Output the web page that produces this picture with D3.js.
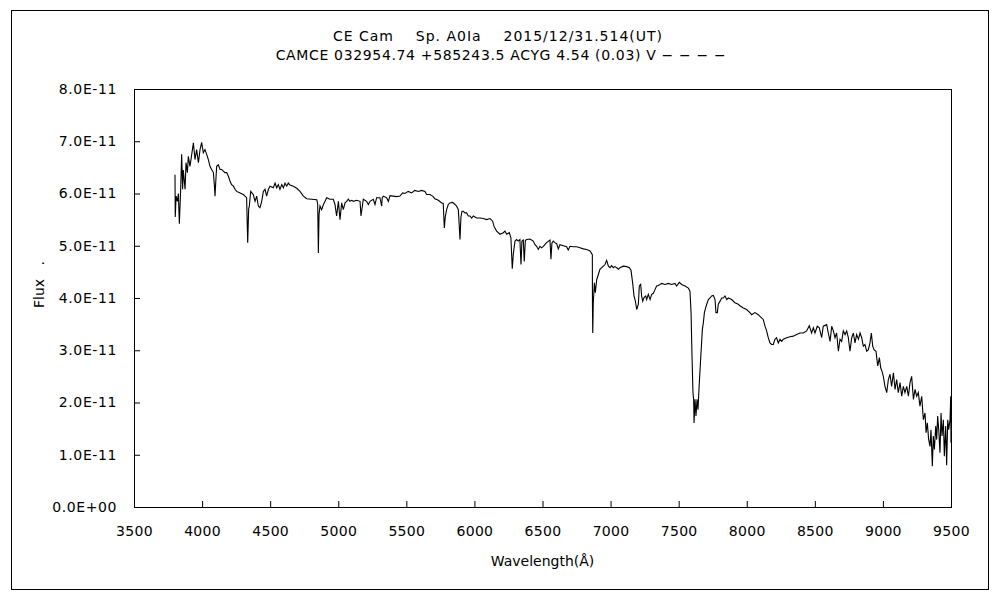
<!DOCTYPE html>
<html>
<head>
<meta charset="utf-8">
<script src="https://cdn.jsdelivr.net/npm/d3@7"></script>
<style>
  body { margin: 0; background: #fff; }
  text { font-family: "DejaVu Sans", sans-serif; fill: #000; }
</style>
</head>
<body>
<svg id="chart" width="1000" height="600"></svg>
<script>
// spectrum: wavelength (A) and flux in units of 1e-11
const wavelength = [
  3801,3803,3809,3818,3826,3833,3843,3850,3857,3862,3875,3882,3892,3899,3911,3924,3936,3948,3960,3973,
  3985,3997,4009,4021,4034,4046,4058,4070,4083,4090,4095,4100,4107,4119,4132,4144,4156,4168,4181,4193,
  4205,4217,4230,4242,4254,4279,4303,4315,4327,4335,4342,4347,4357,4376,4389,4401,4413,4425,4438,4450,
  4462,4474,4487,4499,4523,4536,4548,4560,4572,4585,4597,4609,4621,4633,4646,4670,4695,4719,4744,4768,
  4805,4842,4849,4854,4859,4866,4878,4891,4903,4915,4939,4964,4976,4988,5001,5013,5025,5037,5050,5062,
  5074,5086,5099,5111,5135,5160,
  5167,5184,5208,5221,5233,5257,5270,5282,5306,5319,5323,5331,5355,5368,5380,5404,5429,5453,5473,5490,
  5514,5539,5563,5588,5612,5637,5649,5674,5693,5710,5735,5759,5771,5779,5786,5796,5808,5820,5840,5857,
  5869,5882,5894,5901,5909,5918,5931,5943,5955,5967,5980,5992,6016,6041,6065,6090,6114,6134,6144,6163,
  6188,6212,6224,6237,6256,6268,6278,6286,6290,6298,6310,6322,6334,6342,6349,6359,6366,6374,6383,6408,
  6432,6445,6457,6469,6481,6494,6506,6530,6555,6562,6569,6579,6591,6604,6616,6628,6653,6677,6689,6702,
  6726,6751,6775,6800,6824,6849,6866,
  6867,6869,6873,6881,6888,6898,6910,6922,6935,6947,6959,6971,6984,6996,7008,7020,7032,7045,7057,7069,
  7094,7118,7138,7150,7162,7172,7182,7192,7204,7211,7221,7228,7236,7245,7258,7265,7277,7290,7302,7314,
  7326,7338,7351,7375,7400,7424,7449,7473,7485,7505,7522,7547,7571,7583,7591,7598,7605,7610,7613,7620,
  7627,7635,7642,7649,7657,7667,7674,7681,7689,7698,7706,7718,7730,7742,7755,7767,7774,7784,7791,7804,
  7816,7828,7840,7853,7865,
  7889,7913,7938,7950,7975,7999,8023,8036,8060,8085,8097,8109,8121,8134,8146,8158,8170,8183,8195,8207,
  8219,8232,8244,8256,8268,8293,8317,8342,8366,8391,8415,8440,8459,8476,8489,8501,8518,8533,8550,8562,
  8587,8599,
  8612,8624,8636,8648,8660,8673,8685,8697,8709,8722,8734,8746,8758,8771,8783,8795,8807,8820,8832,8844,
  8856,8868,8881,8893,8905,8915,8925,8935,8949,8962,8974,8984,8993,9003,9015,9028,9040,9052,9064,9077,
  9089,9101,9113,9126,9138,9150,9162,9175,9187,9199,9211,9224,9236,9248,9260,9272,9285,9297,9309,9317,
  9326,9336,9346,9353,9363,9370,9378,9388,9395,9402,9410,9419,9427,9434,9444,9451,9461,9468,9476,9483,
  9493,9498,9500
];
const flux = [
  6.36,5.55,5.95,5.85,6.00,5.42,6.10,6.75,6.08,6.45,6.08,6.59,6.40,6.71,6.52,6.75,6.97,6.65,6.84,6.59,
  6.84,6.98,6.78,6.84,6.75,6.65,6.52,6.46,6.40,6.17,5.95,6.20,6.52,6.55,6.46,6.46,6.43,6.40,6.40,6.33,
  6.24,6.17,6.14,6.08,6.04,6.01,5.98,5.95,5.92,5.06,5.70,5.76,6.04,5.98,5.85,5.95,5.76,5.73,5.85,6.04,
  6.08,5.95,6.08,6.14,6.11,6.20,6.11,6.17,6.08,6.17,6.11,6.20,6.14,6.20,6.16,6.14,6.10,6.04,5.95,5.90,
  5.89,5.88,5.80,4.86,5.60,5.76,5.69,5.79,5.85,5.92,5.89,5.89,5.79,5.57,5.85,5.50,5.82,5.69,5.82,5.85,
  5.89,5.85,5.87,5.85,5.87,5.85,
  5.57,5.89,5.85,5.79,5.85,5.89,5.79,5.92,5.92,5.76,5.92,5.95,5.92,5.85,5.96,5.95,5.94,5.95,6.01,6.00,
  6.04,6.01,6.06,6.04,6.06,6.04,5.98,5.98,5.95,5.90,5.87,5.82,5.81,5.34,5.55,5.69,5.79,5.82,5.83,5.79,
  5.76,5.69,5.12,5.55,5.66,5.66,5.63,5.63,5.57,5.57,5.53,5.57,5.53,5.53,5.52,5.50,5.52,5.47,5.37,5.28,
  5.22,5.25,5.28,5.22,5.25,5.15,4.56,4.85,4.93,5.09,5.12,5.09,5.12,4.64,5.09,5.11,4.70,5.10,5.12,5.13,
  5.09,5.02,4.99,4.93,4.99,4.96,4.99,5.06,5.11,4.74,5.05,5.09,5.06,5.04,4.94,5.02,5.00,4.98,4.92,4.99,
  4.98,4.98,4.96,4.94,4.93,4.90,4.83,
  3.85,3.33,3.91,4.29,4.10,4.35,4.45,4.55,4.58,4.61,4.64,4.72,4.61,4.58,4.62,4.58,4.60,4.58,4.55,4.58,
  4.61,4.60,4.58,4.53,4.29,4.04,3.94,3.78,3.88,4.23,4.26,4.04,3.94,4.01,4.04,3.97,4.07,3.97,4.07,4.09,
  4.16,4.23,4.24,4.28,4.26,4.28,4.26,4.28,4.23,4.30,4.26,4.23,4.19,4.13,3.72,2.89,2.19,2.06,1.61,2.06,
  1.74,2.06,1.86,2.25,2.63,3.08,3.40,3.52,3.72,3.81,3.88,3.97,4.00,4.04,4.05,3.97,3.72,3.72,3.88,3.94,
  4.00,4.00,4.04,3.97,4.00,
  3.97,3.91,3.88,3.85,3.81,3.78,3.72,3.68,3.72,3.68,3.65,3.62,3.59,3.46,3.37,3.24,3.14,3.11,3.11,3.21,
  3.24,3.14,3.21,3.17,3.21,3.24,3.26,3.27,3.30,3.33,3.33,3.37,3.47,3.33,3.43,3.33,3.46,3.43,3.24,3.46,
  3.49,3.33,
  3.17,3.46,3.37,3.24,3.33,2.98,3.21,3.17,3.37,3.30,3.37,3.24,2.98,3.24,3.33,3.14,3.30,3.21,3.33,3.24,
  3.08,3.11,2.98,3.01,3.14,3.33,3.08,3.01,2.98,2.70,2.86,2.66,2.60,2.50,2.31,2.19,2.44,2.54,2.31,2.57,
  2.25,2.44,2.19,2.38,2.12,2.31,2.19,2.31,2.12,2.38,2.50,2.06,2.25,2.12,2.19,1.93,2.12,1.67,1.80,1.42,
  1.61,1.29,1.16,1.48,0.78,1.36,1.10,1.55,1.29,1.74,1.48,1.04,1.80,1.36,1.67,0.97,1.55,0.80,1.67,1.48,
  1.67,2.12,1.23
];

const xTicks = [3500, 4000, 4500, 5000, 5500, 6000, 6500, 7000, 7500, 8000, 8500, 9000, 9500];
const yTicks = [0, 1, 2, 3, 4, 5, 6, 7, 8];
const yTickLabels = ["0.0E+00", "1.0E-11", "2.0E-11", "3.0E-11", "4.0E-11",
                     "5.0E-11", "6.0E-11", "7.0E-11", "8.0E-11"];

const titleLine1 = "CE Cam    Sp. A0\u2160a    2015/12/31.514(UT)";
const titleLine2 = "CAMCE 032954.74 +585243.5 ACYG 4.54 (0.03) V \u2212 \u2212 \u2212 \u2212";

const plot = { left: 134, right: 951, top: 89, bottom: 507 };

const svg = d3.select("#chart");

// outer frame
svg.append("rect")
  .attr("x", 11.5).attr("y", 10.5)
  .attr("width", 977).attr("height", 579)
  .attr("fill", "none").attr("stroke", "#000");

const x = d3.scaleLinear().domain([3500, 9500]).range([plot.left, plot.right]);
const y = d3.scaleLinear().domain([0, 8]).range([plot.bottom, plot.top]);

// plot box
svg.append("rect")
  .attr("x", plot.left + 0.5).attr("y", plot.top + 0.5)
  .attr("width", plot.right - plot.left).attr("height", plot.bottom - plot.top)
  .attr("fill", "none").attr("stroke", "#000");

const xAxis = svg.append("g")
  .attr("transform", `translate(0,${plot.bottom})`)
  .call(d3.axisBottom(x).tickValues(xTicks).tickFormat(d3.format("d"))
    .tickSizeInner(-6).tickSizeOuter(0).tickPadding(19));
xAxis.selectAll("text").style("font-size", "14px").style("letter-spacing", "0.3px");

const yAxis = svg.append("g")
  .attr("transform", `translate(${plot.left},0)`)
  .call(d3.axisLeft(y).tickValues(yTicks).tickFormat((d, i) => yTickLabels[i])
    .tickSizeInner(-6).tickSizeOuter(0).tickPadding(17));
yAxis.selectAll("text").style("font-size", "14px").style("letter-spacing", "0.6px");

svg.selectAll(".domain").attr("stroke", "#000");
svg.selectAll(".tick line").attr("stroke", "#000");

// spectrum
const pts = wavelength.map((w, i) => [w, flux[i]]);
svg.append("path")
  .datum(pts)
  .attr("fill", "none")
  .attr("stroke", "#000")
  .attr("stroke-width", 1.1)
  .attr("d", d3.line().x(d => x(d[0])).y(d => y(d[1])));

// titles
svg.append("text")
  .attr("x", 498).attr("y", 41)
  .attr("text-anchor", "middle")
  .style("font-size", "14px")
  .style("letter-spacing", "1px")
  .style("white-space", "pre")
  .text(titleLine1);

svg.append("text")
  .attr("x", 501).attr("y", 60)
  .attr("text-anchor", "middle")
  .style("font-size", "14px")
  .style("letter-spacing", "0.65px")
  .text(titleLine2);

svg.append("text")
  .attr("x", (plot.left + plot.right) / 2).attr("y", 566)
  .attr("text-anchor", "middle")
  .style("font-size", "14px")
  .text("Wavelength(\u00c5)");

svg.append("text")
  .attr("transform", "translate(44,308) rotate(-90)")
  .style("font-size", "14px")
  .style("white-space", "pre")
  .text("Flux   .");
</script>
</body>
</html>
